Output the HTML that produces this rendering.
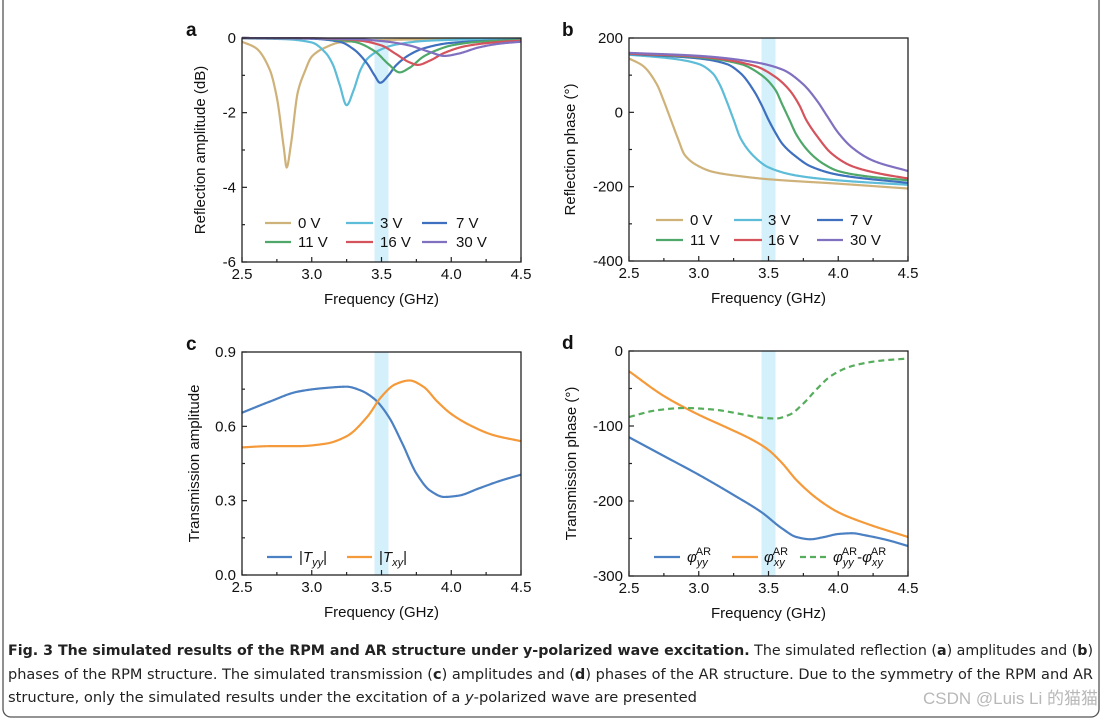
<!DOCTYPE html>
<html><head><meta charset="utf-8">
<style>
html,body{margin:0;padding:0;background:#fff;}
svg{display:block;font-family:"Liberation Sans",Arial,sans-serif;}
</style></head>
<body>
<svg id="fig" width="1107" height="722" viewBox="0 0 1107 722" xmlns="http://www.w3.org/2000/svg">
<rect x="3" y="-12" width="1096" height="729" rx="8" fill="#fff" stroke="#555" stroke-width="1.3"/>
<g id="plots"></g>
<g font-family="'DejaVu Sans','Liberation Sans',sans-serif" font-size="14.5" fill="#222">
<text x="8" y="655" textLength="1085" lengthAdjust="spacingAndGlyphs"><tspan font-weight="bold">Fig. 3 The simulated results of the RPM and AR structure under y-polarized wave excitation.</tspan> The simulated reflection (<tspan font-weight="bold">a</tspan>) amplitudes and (<tspan font-weight="bold">b</tspan>)</text>
<text x="8" y="679" textLength="1085" lengthAdjust="spacingAndGlyphs">phases of the RPM structure. The simulated transmission (<tspan font-weight="bold">c</tspan>) amplitudes and (<tspan font-weight="bold">d</tspan>) phases of the AR structure. Due to the symmetry of the RPM and AR</text>
<text x="8" y="702" textLength="689" lengthAdjust="spacingAndGlyphs">structure, only the simulated results under the excitation of a <tspan font-style="italic">y</tspan>-polarized wave are presented</text>
</g>
<text x="1098" y="704" text-anchor="end" font-size="17" fill="#b8b8b8" font-family="'Liberation Sans','Noto Sans CJK SC',sans-serif">CSDN @Luis Li 的猫猫</text>
</svg>
<script>
// ---- Panel a: reflection amplitude (dB) ----
const a0f=[2.5,2.6,2.7,2.75,2.8,2.82,2.85,2.9,2.95,3.0,3.1,3.2,3.4,3.7,4.5];
const a0v=[-0.1,-0.27,-0.86,-1.6,-2.95,-3.47,-2.87,-1.45,-0.9,-0.5,-0.25,-0.12,-0.07,-0.04,-0.02];
const a3f=[2.5,2.8,3.0,3.1,3.15,3.2,3.25,3.3,3.35,3.4,3.5,3.6,3.8,4.0,4.5];
const a3v=[-0.01,-0.03,-0.12,-0.4,-0.7,-1.25,-1.8,-1.4,-0.85,-0.55,-0.3,-0.18,-0.08,-0.05,-0.02];
const a7f=[2.5,3.0,3.2,3.3,3.4,3.45,3.49,3.55,3.6,3.7,3.8,4.0,4.5];
const a7v=[0,-0.02,-0.1,-0.3,-0.7,-1.0,-1.2,-1.0,-0.75,-0.45,-0.28,-0.13,-0.04];
const a11f=[2.5,3.0,3.3,3.45,3.55,3.63,3.7,3.8,3.9,4.0,4.2,4.5];
const a11v=[0,-0.01,-0.1,-0.35,-0.7,-0.92,-0.8,-0.5,-0.32,-0.2,-0.1,-0.05];
const a16f=[2.5,3.0,3.3,3.5,3.6,3.7,3.76,3.85,3.95,4.1,4.3,4.5];
const a16v=[0,-0.01,-0.05,-0.2,-0.42,-0.65,-0.72,-0.6,-0.4,-0.22,-0.12,-0.07];
const a30f=[2.5,3.0,3.3,3.5,3.7,3.85,3.95,4.05,4.2,4.35,4.5];
const a30v=[0,-0.01,-0.03,-0.08,-0.2,-0.38,-0.48,-0.42,-0.25,-0.15,-0.1];
// ---- Panel b: reflection phase ----
const b0f=[2.5,2.6,2.7,2.75,2.8,2.85,2.9,3.0,3.1,3.3,3.5,4.0,4.5];
const b0v=[145,125,75,30,-20,-70,-115,-145,-160,-172,-180,-192,-205];
const b3f=[2.5,2.8,3.0,3.1,3.15,3.2,3.25,3.3,3.4,3.5,3.7,4.0,4.5];
const b3v=[155,145,130,105,75,30,-20,-70,-120,-148,-170,-183,-195];
const b7f=[2.5,3.0,3.2,3.3,3.4,3.45,3.5,3.55,3.6,3.7,3.8,4.0,4.5];
const b7v=[157,145,130,105,55,20,-20,-55,-85,-120,-145,-168,-190];
const b11f=[2.5,3.0,3.3,3.45,3.55,3.6,3.65,3.7,3.8,3.9,4.0,4.2,4.5];
const b11v=[158,148,130,100,60,20,-20,-60,-110,-140,-158,-172,-183];
const b16f=[2.5,3.0,3.4,3.55,3.65,3.72,3.77,3.85,3.95,4.1,4.3,4.5];
const b16v=[158,150,125,95,60,20,-20,-65,-110,-145,-165,-178];
const b30f=[2.5,3.0,3.4,3.6,3.75,3.85,3.92,4.0,4.1,4.25,4.5];
const b30v=[160,152,135,115,75,30,-10,-55,-95,-130,-158];
// ---- Panel c: transmission amplitude ----
const cYf=[2.5,2.7,2.9,3.1,3.25,3.35,3.45,3.55,3.65,3.75,3.85,3.95,4.05,4.2,4.35,4.5];
const cYv=[0.655,0.7,0.74,0.755,0.76,0.745,0.71,0.64,0.53,0.41,0.34,0.315,0.32,0.35,0.38,0.405];
const cXf=[2.5,2.7,2.9,3.1,3.25,3.4,3.5,3.6,3.7,3.8,3.9,4.0,4.15,4.3,4.5];
const cXv=[0.515,0.52,0.52,0.53,0.56,0.64,0.72,0.77,0.785,0.76,0.7,0.65,0.6,0.565,0.54];
// ---- Panel d: transmission phase ----
const dYf=[2.5,2.75,3.0,3.25,3.45,3.6,3.7,3.8,3.9,4.0,4.1,4.2,4.35,4.5];
const dYv=[-115,-140,-165,-192,-215,-237,-248,-251,-248,-244,-243,-246,-252,-260];
const dXf=[2.5,2.75,3.0,3.2,3.4,3.5,3.6,3.7,3.85,4.0,4.2,4.5];
const dXv=[-27,-60,-85,-102,-120,-132,-150,-172,-197,-215,-230,-248];
const dDf=[2.5,2.7,2.9,3.1,3.3,3.45,3.55,3.65,3.75,3.85,3.95,4.1,4.3,4.5];
const dDv=[-88,-79,-76,-78,-84,-89,-90,-85,-70,-50,-33,-20,-13,-10];
const xTicks=["2.5","3.0","3.5","4.0","4.5"];
const aTicks=["0","-2","-4","-6"];
const bTicks=["200","0","-200","-400"];
const cTicks=["0.9","0.6","0.3","0.0"];
const dTicks=["0","-100","-200","-300"];

const NS="http://www.w3.org/2000/svg";
const root=document.getElementById('plots');
function el(tag,attrs,parent){const e=document.createElementNS(NS,tag);for(const k in attrs)e.setAttribute(k,attrs[k]);(parent||root).appendChild(e);return e;}
// monotone cubic (Fritsch-Carlson) interpolation, sampled densely
function mono(xs,ys){const n=xs.length,d=[],m=new Array(n);
 for(let i=0;i<n-1;i++)d.push((ys[i+1]-ys[i])/(xs[i+1]-xs[i]));
 m[0]=d[0];m[n-1]=d[n-2];
 for(let i=1;i<n-1;i++){if(d[i-1]*d[i]<=0)m[i]=0;else{const h0=xs[i]-xs[i-1],h1=xs[i+1]-xs[i];const w1=2*h1+h0,w2=h1+2*h0;m[i]=(w1+w2)/(w1/d[i-1]+w2/d[i]);}}
 return x=>{let i=0;while(i<n-2&&x>xs[i+1])i++;const h=xs[i+1]-xs[i],t=(x-xs[i])/h;
  const t2=t*t,t3=t2*t;return (2*t3-3*t2+1)*ys[i]+(t3-2*t2+t)*h*m[i]+(-2*t3+3*t2)*ys[i+1]+(t3-t2)*h*m[i+1];};}

function panel(cfg){
 const g=el('g',{});
 
 
 const L=cfg.L,R=cfg.R,T=cfg.T,B=cfg.B;
 const xs=f=>L+(f-2.5)/2*(R-L);
 const ys=v=>T+(cfg.ymax-v)/(cfg.ymax-cfg.ymin)*(B-T);
 const band=el('rect',{x:xs(3.45),y:T,width:xs(3.55)-xs(3.45),height:B-T,fill:'#d3f0fb'},g);
 
 
 cfg.series.forEach(s=>{
  const fn=mono(s.f,s.v);const f0=s.f[0],f1=s.f[s.f.length-1];let d='';
  for(let k=0;k<=400;k++){const f=f0+(f1-f0)*k/400;d+=(k?'L':'M')+xs(f).toFixed(2)+','+ys(fn(f)).toFixed(2);}
  const p=el('path',{d:d,fill:'none',stroke:s.c,'stroke-width':2.2,'stroke-linejoin':'round','stroke-dasharray':s.dash||'none'},g);
  
  
 });
 const fr=el('rect',{x:L,y:T,width:R-L,height:B-T,fill:'none',stroke:'#222','stroke-width':1.3},g);
 
 
 for(let f=2.5;f<=4.501;f+=0.25){el('line',{x1:xs(f),x2:xs(f),y1:B,y2:B-(Math.abs((f*2)%1)<0.01?5:3),stroke:'#222','stroke-width':1.2},g);}
 const nT=cfg.yt.length;
 for(let i=0;i<2*(nT-1)+1;i++){const y=T+i*(B-T)/(2*(nT-1));el('line',{x1:L,x2:L+(i%2?3:5),y1:y,y2:y,stroke:'#222','stroke-width':1.2},g);}
 xTicks.forEach(t=>{const tx=el('text',{x:xs(+t),y:B+17,'text-anchor':'middle','font-size':15,fill:'#111'},g);tx.textContent=t;
  
  });
 cfg.yt.forEach((t,i)=>{const tx=el('text',{x:L-6,y:T+i*(B-T)/(nT-1)+5,'text-anchor':'end','font-size':15,fill:'#111'},g);tx.textContent=t;
  
  });
 const xt=el('text',{x:(L+R)/2,y:B+42,'text-anchor':'middle','font-size':15,fill:'#111'},g);xt.textContent='Frequency (GHz)';
 
 
 const yt=el('text',{x:0,y:0,'text-anchor':'middle','font-size':15,fill:'#111',transform:`translate(${cfg.ytx},${(T+B)/2}) rotate(-90)`},g);yt.textContent=cfg.ytitle;
 
 
 const lt=el('text',{x:cfg.lx,y:T-2,'font-size':19,'font-weight':'bold',fill:'#111'},g);lt.textContent=cfg.letter;
 
 
 cfg.legend.forEach(e=>{
  const lg=el('g',{},g);
  
  
  el('line',{x1:e.x1,x2:e.x2,y1:e.y,y2:e.y,stroke:e.c,'stroke-width':2.2,'stroke-dasharray':e.dash||'none'},lg);
  const t=el('text',{x:e.tx,y:e.y+5,'font-size':15,fill:'#111'},lg);t.innerHTML=e.label;
 });
}
const C={v0:'#cfb27a',v3:'#5dbcd8',v7:'#3f6fbf',v11:'#4fa86a',v16:'#d4535d',v30:'#8170c0',bl:'#4b80c2',or:'#f59a3a',gr:'#56ad5c'};
function vleg(xs,ys){const labs=[['0 V',C.v0],['3 V',C.v3],['7 V',C.v7],['11 V',C.v11],['16 V',C.v16],['30 V',C.v30]];
 return labs.map((l,i)=>({x1:xs[i%3][0],x2:xs[i%3][1],tx:xs[i%3][2],y:ys[Math.floor(i/3)],c:l[1],label:l[0]}));}
panel({name:'panel-a-reflection-amplitude',L:242,R:521,T:38,B:262,ymax:0,ymin:-6,yt:aTicks,ytitle:'Reflection amplitude (dB)',ytx:205,lx:186,letter:'a',
 series:[{f:a0f,v:a0v,c:C.v0,n:'line-0v'},{f:a3f,v:a3v,c:C.v3,n:'line-3v'},{f:a7f,v:a7v,c:C.v7,n:'line-7v'},{f:a11f,v:a11v,c:C.v11,n:'line-11v'},{f:a16f,v:a16v,c:C.v16,n:'line-16v'},{f:a30f,v:a30v,c:C.v30,n:'line-30v'}],
 legend:vleg([[265,291,298],[346,373,380],[422,447,456]],[223,242])});
panel({name:'panel-b-reflection-phase',L:629,R:908,T:38,B:261,ymax:200,ymin:-400,yt:bTicks,ytitle:'Reflection phase (°)',ytx:575,lx:562,letter:'b',
 series:[{f:b0f,v:b0v,c:C.v0,n:'line-0v'},{f:b3f,v:b3v,c:C.v3,n:'line-3v'},{f:b7f,v:b7v,c:C.v7,n:'line-7v'},{f:b11f,v:b11v,c:C.v11,n:'line-11v'},{f:b16f,v:b16v,c:C.v16,n:'line-16v'},{f:b30f,v:b30v,c:C.v30,n:'line-30v'}],
 legend:vleg([[656,683,690],[734,762,768],[817,843,850]],[220,240])});
panel({name:'panel-c-transmission-amplitude',L:242,R:521,T:352,B:575,ymax:0.9,ymin:0,yt:cTicks,ytitle:'Transmission amplitude',ytx:199,lx:186,letter:'c',
 series:[{f:cYf,v:cYv,c:C.bl,n:'line-tyy'},{f:cXf,v:cXv,c:C.or,n:'line-txy'}],
 legend:[{x1:267,x2:292,tx:299,y:557,c:C.bl,label:'|<tspan font-style="italic">T</tspan><tspan font-style="italic" font-size="11" dy="4">yy</tspan><tspan dy="-4">|</tspan>'},
  {x1:347,x2:372,tx:379,y:557,c:C.or,label:'|<tspan font-style="italic">T</tspan><tspan font-style="italic" font-size="11" dy="4">xy</tspan><tspan dy="-4">|</tspan>'}]});
panel({name:'panel-d-transmission-phase',L:629,R:908,T:351,B:576,ymax:0,ymin:-300,yt:dTicks,ytitle:'Transmission phase (°)',ytx:576,lx:562,letter:'d',
 series:[{f:dYf,v:dYv,c:C.bl,n:'line-phi-yy'},{f:dXf,v:dXv,c:C.or,n:'line-phi-xy'},{f:dDf,v:dDv,c:C.gr,n:'line-phi-diff',dash:'6,4'}],
 legend:[{x1:654,x2:680,tx:687,y:557,c:C.bl,label:'<tspan font-style="italic">φ</tspan><tspan font-style="italic" font-size="11" dy="4">yy</tspan><tspan font-size="11" dx="-12" dy="-11">AR</tspan>'},
  {x1:732,x2:758,tx:764,y:557,c:C.or,label:'<tspan font-style="italic">φ</tspan><tspan font-style="italic" font-size="11" dy="4">xy</tspan><tspan font-size="11" dx="-12" dy="-11">AR</tspan>'},
  {x1:800,x2:827,tx:833,y:557,c:C.gr,dash:'6,4',label:'<tspan font-style="italic">φ</tspan><tspan font-style="italic" font-size="11" dy="4">yy</tspan><tspan font-size="11" dx="-12" dy="-11">AR</tspan><tspan dy="7">-</tspan><tspan font-style="italic">φ</tspan><tspan font-style="italic" font-size="11" dy="4">xy</tspan><tspan font-size="11" dx="-12" dy="-11">AR</tspan>'}]});
</script>
</body></html>
